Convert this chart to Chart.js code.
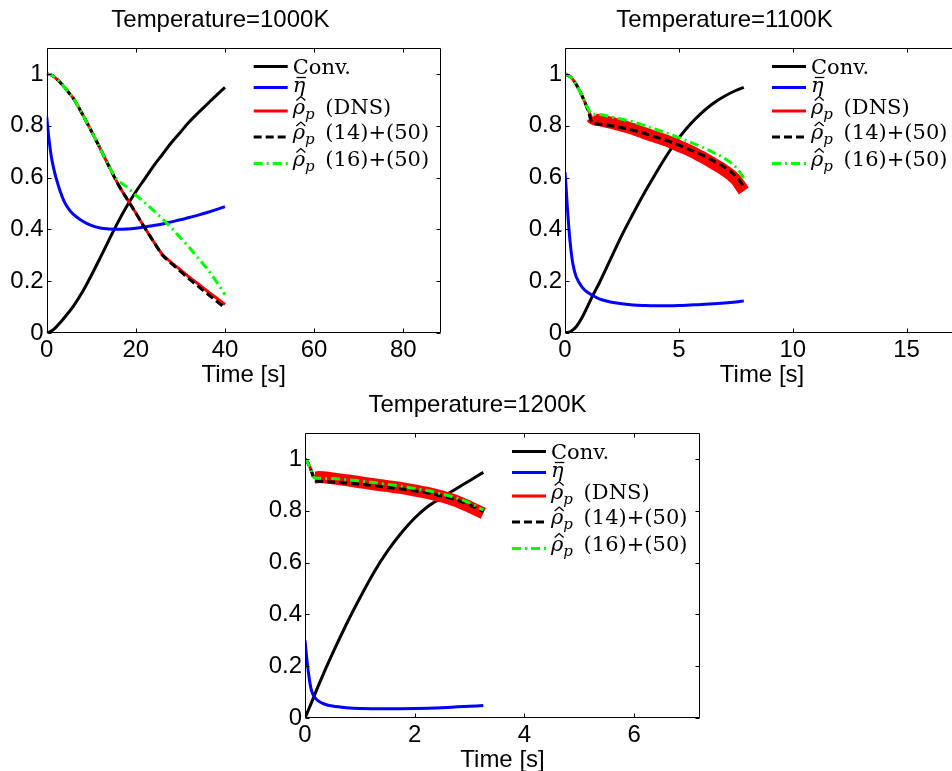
<!DOCTYPE html>
<html>
<head>
<meta charset="utf-8">
<script src="https://cdn.jsdelivr.net/npm/chart.js@4.4.1/dist/chart.umd.min.js"></script>
<style>
  html, body { margin: 0; padding: 0; background: #fff; }
  body { width: 952px; height: 771px; position: relative; overflow: hidden; }
  canvas { position: absolute; }
</style>
</head>
<body>
<canvas id="c1000" width="490" height="390" style="left:0;top:0"></canvas>
<canvas id="c1100" width="544" height="390" style="left:490px;top:0"></canvas>
<canvas id="c1200" width="500" height="390" style="left:255px;top:390px"></canvas>
<script>
// legend names (underscore = subscript)
const seriesNames = ['Conv.', 'η̄', 'ρ̂_p (DNS)', 'ρ̂_p (14)+(50)', 'ρ̂_p (16)+(50)'];
const yTicks = [0, 0.2, 0.4, 0.6, 0.8, 1];

// T = 1000 K
const tConv1000 = [0, 1, 2, 3, 4, 6, 8, 10, 12, 14, 16, 18, 20, 22, 24, 26, 28, 30, 32, 34, 36, 38, 40];
const conv1000 = [0, 0.007, 0.021, 0.04, 0.06, 0.104, 0.158, 0.222, 0.29, 0.36, 0.428, 0.49, 0.545, 0.595, 0.645, 0.69, 0.735, 0.775, 0.815, 0.85, 0.883, 0.916, 0.948];
const tEta1000 = [0, 0.25, 0.5, 1, 1.5, 2, 3, 4, 5, 6, 8, 10, 12, 14, 16, 18, 20, 22, 24, 26, 28, 30, 32, 34, 36, 38, 40];
const eta1000 = [0.835, 0.79, 0.75, 0.685, 0.64, 0.605, 0.548, 0.505, 0.477, 0.458, 0.432, 0.415, 0.405, 0.401, 0.4, 0.401, 0.404, 0.409, 0.415, 0.421, 0.429, 0.437, 0.446, 0.455, 0.465, 0.476, 0.488];
const tRho1000 = [0, 1, 2, 3, 4, 5, 6, 8, 10, 12, 14, 16, 17, 18, 20, 22, 24, 25, 26, 28, 30, 32, 34, 36, 38, 40];
const dns1000 = [1, 0.996, 0.984, 0.968, 0.948, 0.927, 0.905, 0.845, 0.78, 0.712, 0.642, 0.575, 0.545, 0.518, 0.463, 0.406, 0.352, 0.326, 0.302, 0.272, 0.244, 0.215, 0.189, 0.162, 0.136, 0.11];
const m14_1000 = [1, 0.996, 0.984, 0.968, 0.948, 0.927, 0.905, 0.845, 0.78, 0.712, 0.642, 0.575, 0.545, 0.518, 0.463, 0.406, 0.352, 0.325, 0.3, 0.268, 0.238, 0.208, 0.18, 0.152, 0.124, 0.097];
const m16_1000 = [1, 0.996, 0.984, 0.968, 0.948, 0.927, 0.905, 0.845, 0.78, 0.712, 0.642, 0.588, 0.576, 0.563, 0.532, 0.503, 0.472, 0.456, 0.44, 0.405, 0.368, 0.33, 0.288, 0.248, 0.2, 0.148];

// T = 1100 K
const tConv1100 = [0, 0.25, 0.5, 0.75, 1, 1.25, 1.5, 2, 2.5, 3, 3.5, 4, 4.5, 5, 5.5, 6, 6.5, 7, 7.5, 7.85];
const conv1100 = [0, 0.006, 0.025, 0.06, 0.105, 0.15, 0.192, 0.285, 0.378, 0.462, 0.543, 0.618, 0.69, 0.753, 0.806, 0.85, 0.886, 0.914, 0.936, 0.948];
const tEta1100 = [0, 0.05, 0.1, 0.175, 0.25, 0.35, 0.5, 0.75, 1, 1.5, 2, 2.5, 3, 3.5, 4, 4.5, 5, 5.5, 6, 6.5, 7, 7.5, 7.85];
const eta1100 = [0.62, 0.56, 0.49, 0.4, 0.33, 0.265, 0.215, 0.177, 0.156, 0.132, 0.12, 0.113, 0.108, 0.106, 0.105, 0.105, 0.106, 0.108, 0.11, 0.113, 0.116, 0.12, 0.124];
const tRho1100 = [0, 0.25, 0.5, 0.75, 1, 1.17, 1.25, 1.5, 2, 2.5, 3, 3.5, 4, 4.5, 5, 5.5, 6, 6.5, 7, 7.5, 7.85];
const dns1100 = [1, 0.988, 0.958, 0.915, 0.865, 0.832, 0.826, 0.822, 0.812, 0.8, 0.787, 0.771, 0.756, 0.741, 0.722, 0.703, 0.68, 0.655, 0.628, 0.592, 0.548];
const m14_1100 = [1, 0.988, 0.958, 0.915, 0.862, 0.815, 0.808, 0.806, 0.8, 0.792, 0.782, 0.77, 0.756, 0.742, 0.725, 0.707, 0.688, 0.665, 0.64, 0.605, 0.565];
const m16_1100 = [1, 0.988, 0.958, 0.915, 0.868, 0.845, 0.844, 0.843, 0.835, 0.825, 0.815, 0.8, 0.786, 0.77, 0.754, 0.737, 0.718, 0.697, 0.674, 0.64, 0.598];

// T = 1200 K
const tConv1200 = [0, 0.1, 0.25, 0.5, 0.75, 1, 1.25, 1.5, 1.75, 2, 2.25, 2.5, 2.75, 3, 3.25];
const conv1200 = [0, 0.05, 0.128, 0.248, 0.36, 0.463, 0.56, 0.643, 0.713, 0.772, 0.818, 0.852, 0.884, 0.916, 0.948];
const tEta1200 = [0, 0.02, 0.04, 0.06, 0.09, 0.12, 0.16, 0.24, 0.35, 0.5, 0.75, 1, 1.5, 2, 2.5, 3, 3.25];
const eta1200 = [0.3, 0.255, 0.215, 0.18, 0.135, 0.105, 0.085, 0.066, 0.054, 0.046, 0.04, 0.037, 0.036, 0.037, 0.04, 0.045, 0.048];
const tRho1200 = [0, 0.05, 0.1, 0.18, 0.25, 0.5, 0.75, 1, 1.25, 1.5, 1.75, 2, 2.25, 2.5, 2.75, 3, 3.25];
const dns1200 = [1, 0.985, 0.963, 0.928, 0.93, 0.925, 0.918, 0.91, 0.902, 0.895, 0.888, 0.878, 0.868, 0.855, 0.838, 0.815, 0.79];
const m14_1200 = [1, 0.985, 0.962, 0.918, 0.914, 0.911, 0.907, 0.902, 0.897, 0.89, 0.884, 0.876, 0.868, 0.856, 0.842, 0.822, 0.796];
const m16_1200 = [1, 0.985, 0.962, 0.926, 0.925, 0.924, 0.92, 0.915, 0.909, 0.902, 0.895, 0.886, 0.877, 0.864, 0.85, 0.83, 0.803];

Chart.defaults.font.family = '"Liberation Sans", Arial, Helvetica, sans-serif';
Chart.defaults.font.size = 24;
Chart.defaults.color = '#000';

const pts = (t, v) => t.map((x, i) => ({ x: x, y: v[i] }));

// box around the axes with inward ticks on all four sides
const framePlugin = {
  id: 'frame',
  afterDatasetsDraw(chart) {
    const { ctx, chartArea: a, scales: { x, y } } = chart;
    const L = Math.round(a.left) + 0.5, R = Math.round(a.right) - 0.5;
    const T = Math.round(a.top) + 0.5, B = Math.round(a.bottom) - 0.5;
    ctx.save();
    ctx.strokeStyle = '#000';
    ctx.lineWidth = 1;
    ctx.beginPath();
    x.ticks.forEach(t => {
      const px = Math.round(x.getPixelForValue(t.value)) + 0.5;
      ctx.moveTo(px, B); ctx.lineTo(px, B - 4);
      ctx.moveTo(px, T); ctx.lineTo(px, T + 4);
    });
    y.ticks.forEach(t => {
      const py = Math.round(y.getPixelForValue(t.value)) + 0.5;
      ctx.moveTo(L, py); ctx.lineTo(L + 4, py);
      ctx.moveTo(R, py); ctx.lineTo(R - 4, py);
    });
    ctx.rect(L, T, R - L, B - T);
    ctx.stroke();
    ctx.restore();
  }
};

const ROMAN = '21px "DejaVu Serif", serif';
const GREEK = 'italic 21px "DejaVu Serif", serif';
const SUB = 'italic 15px "DejaVu Serif", serif';

// greek letters in italic with the accent drawn on top, "_x" as subscript
function drawLabel(ctx, text, x, y) {
  const parts = text.split(/([\u0370-\u03ff][\u0300-\u036f]?|_\w)/).filter(Boolean);
  parts.forEach(p => {
    if (p[0] === '_') {
      ctx.font = SUB;
      ctx.fillText(p[1], x, y + 5);
      x += ctx.measureText(p[1]).width + 4;
    } else if (/[\u0370-\u03ff]/.test(p[0])) {
      ctx.font = GREEK;
      ctx.fillText(p[0], x, y);
      const w = ctx.measureText(p[0]).width;
      const cx = x + w / 2 + 2;
      ctx.beginPath();
      if (p[1] === '\u0302') {
        ctx.moveTo(cx - 4.5, y - 13);
        ctx.lineTo(cx, y - 17);
        ctx.lineTo(cx + 4.5, y - 13);
      } else if (p[1] === '\u0304') {
        ctx.moveTo(cx - 4.5, y - 14);
        ctx.lineTo(cx + 5, y - 14);
      }
      ctx.lineWidth = 1.3;
      ctx.strokeStyle = '#000';
      ctx.stroke();
      x += w;
    } else {
      ctx.font = ROMAN;
      ctx.fillText(p, x, y);
      x += ctx.measureText(p).width;
    }
  });
}

// MATLAB-style legend inside the axes, top right
const legendPlugin = {
  id: 'mlegend',
  afterDraw(chart, args, opts) {
    const { ctx, chartArea: a } = chart;
    ctx.save();
    chart.data.datasets.forEach((ds, i) => {
      const ly = a.top + opts.rowY[i];
      ctx.strokeStyle = ds.borderColor;
      ctx.lineWidth = 3;
      ctx.setLineDash(ds.borderDash || []);
      ctx.beginPath();
      ctx.moveTo(a.left + 207, ly);
      ctx.lineTo(a.left + 241, ly);
      ctx.stroke();
      ctx.setLineDash([]);
      ctx.fillStyle = '#000';
      ctx.textBaseline = 'alphabetic';
      drawLabel(ctx, ds.label, a.left + 246, a.top + opts.textY[i]);
    });
    ctx.restore();
  }
};

function makeChart(id, title, d, o) {
  const datasets = [
    { label: seriesNames[0], data: pts(d.tConv, d.conv), borderColor: '#000000', order: 5, tension: 0.35 },
    { label: seriesNames[1], data: pts(d.tEta, d.eta), borderColor: '#0000ff', order: 4, tension: 0.35 },
    { label: seriesNames[2], data: pts(d.tRho, d.dns), borderColor: '#ff0000', order: 3,
      cubicInterpolationMode: 'monotone', borderCapStyle: 'butt',
      segment: { borderWidth: c => (o.band !== null && c.p0.parsed.x >= o.band) ? 12 : 3 } },
    { label: seriesNames[3], data: pts(d.tRho, d.m14), borderColor: '#000000', borderDash: [8, 4], order: 2,
      cubicInterpolationMode: 'monotone' },
    { label: seriesNames[4], data: pts(d.tRho, d.m16), borderColor: '#00ff00', borderDash: [9, 4, 2, 4], order: 1,
      cubicInterpolationMode: 'monotone' }
  ];
  datasets.forEach(ds => {
    ds.borderWidth = 3;
    ds.pointRadius = 0;
    ds.fill = false;
    ds.borderJoinStyle = 'round';
  });

  return new Chart(document.getElementById(id), {
    type: 'line',
    data: { datasets: datasets },
    options: {
      responsive: false,
      animation: false,
      layout: { padding: { left: 0, right: o.rightPad, top: 0, bottom: 0 } },
      scales: {
        x: {
          type: 'linear', min: 0, max: o.xMax,
          grid: { display: false, drawTicks: false },
          border: { display: false },
          ticks: { stepSize: o.xStep, includeBounds: false, padding: 3, maxRotation: 0 },
          title: { display: true, text: 'Time [s]', padding: { top: 0, bottom: o.xTitlePad } },
          afterFit: s => { s.height = o.xAxisH; }
        },
        y: {
          type: 'linear', min: 0, max: 1.1,
          grid: { display: false, drawTicks: false },
          border: { display: false },
          afterBuildTicks: s => { s.ticks = yTicks.map(v => ({ value: v })); },
          ticks: { padding: 3, callback: v => String(v) },
          afterFit: s => { s.width = o.yAxisW; }
        }
      },
      plugins: {
        legend: { display: false },
        tooltip: { enabled: false },
        title: {
          display: true, text: title,
          font: { size: 24, weight: 'normal', lineHeight: 1.2 },
          padding: { top: o.titleTop, bottom: o.titleBottom }
        },
        mlegend: { rowY: [18.5, 39.5, 63, 89, 115.5], textY: [26, 43.5, 65.5, 91, 117.5] }
      }
    },
    plugins: [framePlugin, legendPlugin]
  });
}

makeChart('c1000', 'Temperature=1000K',
  { tConv: tConv1000, conv: conv1000, tEta: tEta1000, eta: eta1000, tRho: tRho1000, dns: dns1000, m14: m14_1000, m16: m16_1000 },
  { xMax: 88.4, xStep: 20, yAxisW: 46.7, rightPad: 49.3, titleTop: 6.1, titleBottom: 13.1, xAxisH: 57, xTitlePad: 0.6, band: null });

makeChart('c1100', 'Temperature=1100K',
  { tConv: tConv1100, conv: conv1100, tEta: tEta1100, eta: eta1100, tRho: tRho1100, dns: dns1100, m14: m14_1100, m16: m16_1100 },
  { xMax: 17.3, xStep: 5, yAxisW: 75, rightPad: 75, titleTop: 6.1, titleBottom: 13.1, xAxisH: 57, xTitlePad: 0.6, band: 1.17 });

makeChart('c1200', 'Temperature=1200K',
  { tConv: tConv1200, conv: conv1200, tEta: tEta1200, eta: eta1200, tRho: tRho1200, dns: dns1200, m14: m14_1200, m16: m16_1200 },
  { xMax: 7.2, xStep: 2, yAxisW: 50, rightPad: 55, titleTop: 1.4, titleBottom: 12.8, xAxisH: 62, xTitlePad: 5.6, band: 0.18 });
</script>
</body>
</html>
